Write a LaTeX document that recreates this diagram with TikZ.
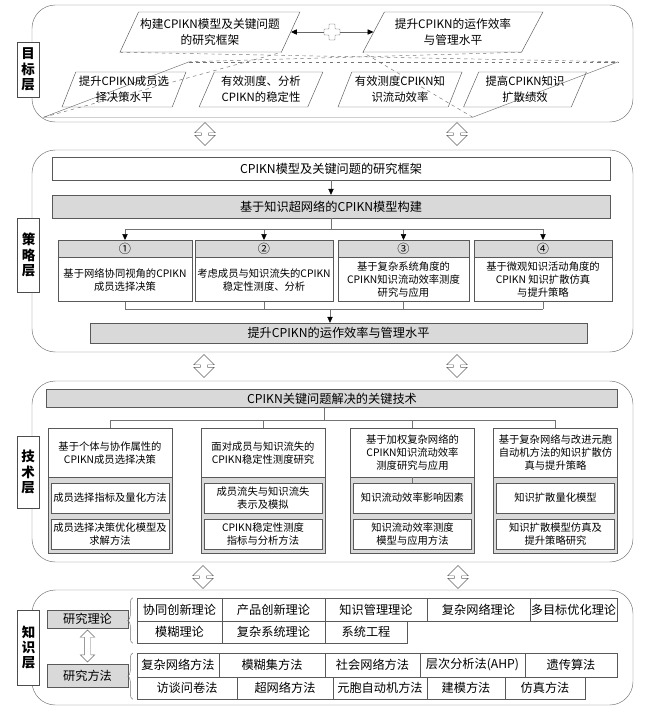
\documentclass[tikz,border=0pt]{standalone}
\usepackage{fontspec}
\setmainfont{Noto Sans CJK SC}
\usetikzlibrary{shapes.geometric,shapes.arrows,arrows.meta,decorations.pathreplacing,calc}

\tikzset{
  layer/.style={draw=black!55, rounded corners=0.7cm},
  laybox/.style={draw=black!70, fill=white, minimum width=0.66cm, align=center,
    inner sep=1pt, font=\fontsize{11.5}{13}\bfseries\selectfont},
  box/.style={draw=black!65, align=center, inner sep=1pt, font=\fontsize{10.4}{13}\selectfont},
  gbox/.style={box, fill=black!15},
  sbox/.style={box, font=\fontsize{8.8}{11}\selectfont},
  cell/.style={draw=black!65, inner sep=0.5pt, font=\fontsize{10.4}{13}\selectfont},
  para/.style={trapezium, trapezium stretches=true, draw=black!65, align=center, inner sep=0pt},
  link/.style={draw=black!55},
  arr/.style={link, -{Triangle[length=5pt,width=4.5pt,color=black]}},
  dbl/.style={double arrow, draw=black!60, fill=white, rotate=90, inner xsep=0pt, inner ysep=0.1cm,
    minimum height=0.69cm, minimum width=0.6cm, double arrow head extend=0.2cm},
  brace/.style={link, decorate, decoration={brace, amplitude=0.15cm}}
}

\begin{document}
\begin{tikzpicture}[x=0.03cm, y=-0.03cm]
  \useasboundingbox (0,0) rectangle (668,719);

  % 目标层
  \draw[layer] (32,5) rectangle (633,122);
  \node[laybox, minimum height=1.65cm] (lab1) at (28,69.5) {目\\标\\层};
  \node[para, trapezium left angle=56, trapezium right angle=124, minimum width=5.4cm,
    minimum height=1.2cm, font=\fontsize{10}{13.6}\selectfont] (goalA) at (210,32)
    {构建CPIKN模型及关键问题\\的研究框架};
  \node[para, trapezium left angle=56, trapezium right angle=124, minimum width=5.4cm,
    minimum height=1.2cm, font=\fontsize{10}{13.6}\selectfont] (goalB) at (453,32)
    {提升CPIKN的运作效率\\与管理水平};
  \node[minimum size=0.48cm, inner sep=0pt] (plus) at (332,32) {};
  \draw[black!60, fill=white, rounded corners=0.5pt, shift={(plus)}]
    (-3,-8) -- (3,-8) -- (3,-3) -- (8,-3) -- (8,3) -- (3,3) -- (3,8) -- (-3,8)
    -- (-3,3) -- (-8,3) -- (-8,-3) -- (-3,-3) -- cycle;
  \draw[arr, draw=black!60, line width=0.6pt] (plus.west) -- (goalA.right side);
  \draw[arr, draw=black!60, line width=0.6pt] (plus.east) -- (goalB.left side);

  \node[trapezium, trapezium stretches=true, trapezium left angle=63, trapezium right angle=117,
    minimum width=17.16cm, minimum height=1.65cm] (goals) at (331,89.5) {};
  \draw[link] (goals.top left corner) -- (goals.bottom left corner)
    -- (goals.bottom right corner) -- (goals.top right corner);
  \draw[link, dashed] (goals.top left corner) -- (goals.top right corner);
  \draw[link, dashed] (goals.bottom left corner) -- (goalA.bottom right corner);
  \draw[link, dashed] (goals.bottom right corner) -- (goalB.bottom left corner);
  \draw[link, dashed] (goalA.bottom left corner) -- (goals.top right corner);
  \draw[link, dashed] (goalB.bottom right corner) -- (goals.top left corner);

  \foreach \cx/\t [count=\i] in {124/提升CPIKN成员选\\择决策水平, 261/有效测度、分析\\CPIKN的稳定性,
      400/有效测度CPIKN知\\识流动效率, 525/提高CPIKN知识\\扩散绩效}
    \node[para, trapezium left angle=64, trapezium right angle=116, minimum width=3.72cm,
      minimum height=1.05cm, font=\fontsize{9.7}{13.6}\selectfont] (sub\i) at (\cx,89.5) {\t};

  % 层间箭头
  \node[dbl] (d1a) at (205,134) {};
  \node[dbl] (d1b) at (457,134) {};
  \node[dbl] (d2a) at (204,366) {};
  \node[dbl] (d2b) at (457,366) {};
  \node[dbl] (d3a) at (203,577) {};
  \node[dbl] (d3b) at (458,577) {};

  % 策略层
  \draw[layer] (32,150) rectangle (633,352);
  \node[laybox, minimum height=2.22cm] (lab2) at (28.5,255) {策\\略\\层};
  \node[box, minimum width=16.74cm, minimum height=0.69cm] (frame) at (331,168.5)
    {CPIKN模型及关键问题的研究框架};
  \node[gbox, minimum width=16.74cm, minimum height=0.69cm] (model) at (331,206.5)
    {基于知识超网络的CPIKN模型构建};
  \draw[arr] (frame.south) -- (model.north);

  \foreach \cx/\w/\n/\t [count=\i] in {125/4.02/①/基于网络协同视角的CPIKN\\成员选择决策,
      264/4.14/②/考虑成员与知识流失的CPIKN\\稳定性测度、分析,
      403.5/3.93/③/基于复杂系统角度的\\CPIKN知识流动效率测度\\研究与应用,
      543/4.14/④/基于微观知识活动角度的\\CPIKN 知识扩散仿真\\与提升策略} {
    \node[gbox, minimum width=\w cm, minimum height=0.51cm, anchor=north] (h\i) at (\cx,240) {\n};
    \node[sbox, minimum width=\w cm, minimum height=1.32cm, anchor=north] (s\i) at (h\i.south) {\t};
  }
  \node[gbox, minimum width=14.91cm, minimum height=0.6cm] (goal2) at (338.5,333)
    {提升CPIKN的运作效率与管理水平};

  \coordinate (mbar) at (330,229);
  \draw[link] (model.south) -- (model.south |- mbar);
  \draw[link] (h1.north |- mbar) -- (h4.north |- mbar);
  \foreach \n in {h1,h2,h3,h4}
    \draw[arr] (\n.north |- mbar) -- (\n.north);
  \coordinate (sbar) at (330,309);
  \foreach \n in {s1,s2,s3,s4}
    \draw[link] (\n.south) -- (\n.south |- sbar);
  \draw[link] (s1.south |- sbar) -- (s4.south |- sbar);
  \draw[arr] (sbar) -- (sbar |- goal2.north);

  % 技术层
  \draw[layer] (32,381) rectangle (633,562);
  \node[laybox, minimum height=2.16cm] (lab3) at (28,472) {技\\术\\层};
  \node[gbox, minimum width=17.13cm, minimum height=0.54cm] (tech) at (332,398.5)
    {CPIKN关键问题解决的关键技术};

  \foreach \cx/\ta/\tb/\tc [count=\i] in {
      110/基于个体与协作属性的\\CPIKN成员选择决策/成员选择指标及量化方法/成员选择决策优化模型及\\求解方法,
      263/面对成员与知识流失的\\CPIKN稳定性测度研究/成员流失与知识流失\\表示及模拟/CPIKN稳定性测度\\指标与分析方法,
      412.5/基于加权复杂网络的\\CPIKN知识流动效率\\测度研究与应用/知识流动效率影响因素/知识流动效率测度\\模型与应用方法,
      555.5/基于复杂网络与改进元胞\\自动机方法的知识扩散仿\\真与提升策略/知识扩散量化模型/知识扩散模型仿真及\\提升策略研究} {
    \node[sbox, minimum width=3.72cm, minimum height=1.47cm, anchor=north] (k\i) at (\cx,428) {\ta};
    \node[gbox, minimum width=3.72cm, minimum height=2.28cm, anchor=north] (g\i) at (k\i.south) {};
    \node[sbox, fill=white, minimum width=3.54cm, minimum height=0.9cm] (m\i) at (\cx,498) {\tb};
    \node[sbox, fill=white, minimum width=3.54cm, minimum height=0.9cm] (n\i) at (\cx,534) {\tc};
  }
  \coordinate (tbar) at (324,420);
  \draw[link] (tech.south -| tbar) -- (tbar);
  \draw[link] (k1.north |- tbar) -- (k4.north |- tbar);
  \foreach \n in {k1,k2,k3,k4}
    \draw[link] (\n.north |- tbar) -- (\n.north);
  \draw[link] (k3.south) -- (m3.north);

  % 知识层
  \draw[layer] (32,590) rectangle (633,705);
  \node[laybox, minimum height=2.25cm] (lab4) at (28.5,647.5) {知\\识\\层};
  \node[gbox, minimum width=2.43cm, minimum height=0.54cm] (theo) at (87.5,619) {研究理论};
  \node[gbox, minimum width=2.43cm, minimum height=0.69cm] (meth) at (87.5,675.5) {研究方法};
  \node[dbl, minimum height=0.96cm, minimum width=0.42cm, inner ysep=0.09cm, double arrow head extend=0.12cm]
    (tm) at ($(theo.south)!0.5!(meth.north)$) {};

  \foreach \a/\b/\t [count=\i] in {137/222/协同创新理论, 222/325/产品创新理论, 325/427/知识管理理论,
      427/530/复杂网络理论, 530/617/多目标优化理论}
    \node[cell, minimum width={(\b-\a)*0.03cm}, minimum height=0.69cm] (ta\i) at ({(\a+\b)/2},609.5) {\t};
  \foreach \a/\b/\t [count=\i] in {137/222/模糊理论, 222/325/复杂系统理论, 325/407/系统工程}
    \node[cell, minimum width={(\b-\a)*0.03cm}, minimum height=0.66cm] (tb\i) at ({(\a+\b)/2},632) {\t};
  \foreach \a/\b/\t [count=\i] in {137/219/复杂网络方法, 219/325/模糊集方法, 325/420/社会网络方法,
      420/525/层次分析法(AHP), 525/617/遗传算法}
    \node[cell, minimum width={(\b-\a)*0.03cm}, minimum height=0.71cm] (ma\i) at ({(\a+\b)/2},665) {\t};
  \foreach \a/\b/\t [count=\i] in {137/237/访谈问卷法, 237/333/超网络方法, 333/427/元胞自动机方法,
      427/505/建模方法, 505/585/仿真方法}
    \node[cell, minimum width={(\b-\a)*0.03cm}, minimum height=0.66cm] (mb\i) at ({(\a+\b)/2},688) {\t};

  \draw[brace] ([xshift=-0.12cm]tb1.south west) -- ([xshift=-0.12cm]ta1.north west);
  \draw[brace] ([xshift=-0.12cm]mb1.south west) -- ([xshift=-0.12cm]ma1.north west);
\end{tikzpicture}
\end{document}
